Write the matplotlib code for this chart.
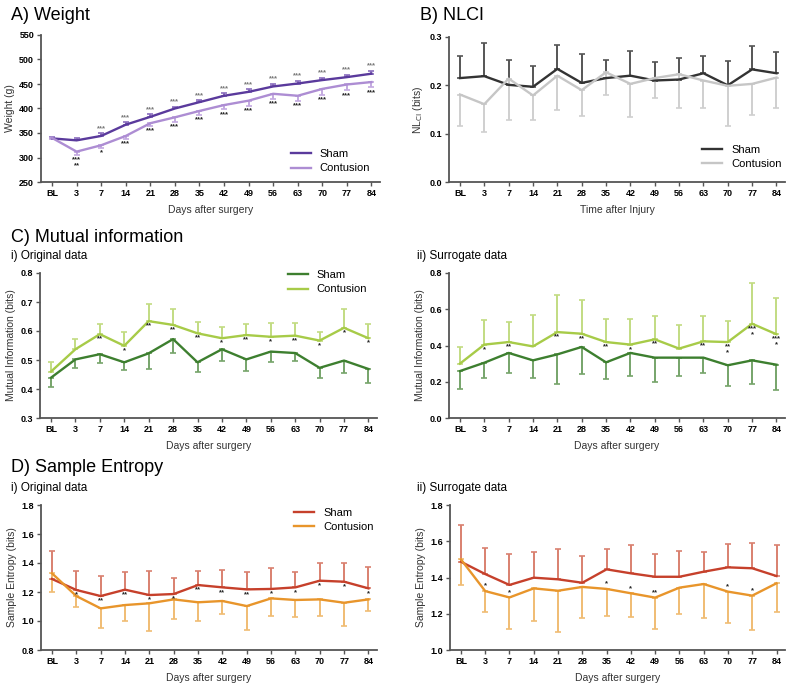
import matplotlib
matplotlib.use('Agg')
import matplotlib.pyplot as plt
import numpy as np

plt.rcParams['font.family'] = ['Liberation Sans', 'DejaVu Sans']

DAYS = ['BL', '3', '7', '14', '21', '28', '35', '42', '49', '56', '63', '70', '77', '84']

# ---- A) Weight ----
w_sham = [339, 335, 344, 367, 383, 400, 413, 426, 434, 445, 451, 458, 464, 471]
w_sham_hi = [342, 339, 349, 372, 388, 404, 417, 431, 439, 450, 456, 463, 469, 477]
w_cont = [340, 312, 325, 344, 370, 382, 395, 407, 416, 430, 426, 440, 449, 454]
w_cont_lo = [337, 306, 319, 338, 364, 372, 387, 398, 405, 419, 415, 428, 437, 443]
w_stars_sham = ['', '', '***', '***', '***', '***', '***', '***', '***', '***', '***', '***', '***', '***']
w_stars_cont = ['', '***\n**', '*', '***', '***', '***', '***', '***', '***', '***', '***', '***', '***', '***']

# ---- B) NLCI ----
n_sham = [0.215, 0.219, 0.201, 0.197, 0.234, 0.205, 0.215, 0.220, 0.210, 0.212, 0.225, 0.200, 0.233, 0.225]
n_sham_hi = [0.260, 0.287, 0.252, 0.241, 0.283, 0.264, 0.253, 0.271, 0.249, 0.256, 0.260, 0.250, 0.281, 0.270]
n_cont = [0.181, 0.161, 0.214, 0.179, 0.220, 0.190, 0.227, 0.203, 0.215, 0.223, 0.210, 0.199, 0.203, 0.216]
n_cont_lo = [0.116, 0.103, 0.129, 0.129, 0.150, 0.137, 0.179, 0.134, 0.173, 0.154, 0.154, 0.116, 0.139, 0.154]

# ---- C) Mutual information ----
mi_sham = [0.439, 0.502, 0.520, 0.492, 0.523, 0.572, 0.492, 0.537, 0.502, 0.529, 0.524, 0.473, 0.498, 0.469]
mi_sham_lo = [0.408, 0.473, 0.489, 0.466, 0.470, 0.525, 0.458, 0.495, 0.463, 0.494, 0.497, 0.437, 0.454, 0.422]
mi_cont = [0.460, 0.537, 0.589, 0.549, 0.634, 0.621, 0.592, 0.575, 0.586, 0.580, 0.584, 0.567, 0.611, 0.575]
mi_cont_hi = [0.494, 0.571, 0.623, 0.598, 0.692, 0.676, 0.632, 0.615, 0.624, 0.626, 0.626, 0.598, 0.675, 0.624]
mi_stars = ['', '', '**', '*', '**', '**', '**', '*', '**', '*', '**', '*', '*', '*']

ms_sham = [0.259, 0.305, 0.359, 0.318, 0.351, 0.392, 0.307, 0.359, 0.333, 0.333, 0.333, 0.291, 0.318, 0.294]
ms_sham_lo = [0.160, 0.221, 0.246, 0.221, 0.190, 0.245, 0.213, 0.234, 0.199, 0.232, 0.248, 0.175, 0.188, 0.156]
ms_cont = [0.300, 0.405, 0.419, 0.395, 0.474, 0.465, 0.419, 0.405, 0.434, 0.383, 0.423, 0.419, 0.520, 0.462]
ms_cont_hi = [0.392, 0.539, 0.530, 0.570, 0.680, 0.653, 0.544, 0.548, 0.563, 0.511, 0.563, 0.535, 0.747, 0.662]
ms_stars = ['', '*', '**', '', '**', '**', '**', '*', '**', '', '**', '**\n*', '***\n*', '***\n*']

# ---- D) Sample entropy ----
se_sham = [1.290, 1.214, 1.172, 1.216, 1.179, 1.186, 1.248, 1.232, 1.218, 1.221, 1.232, 1.278, 1.271, 1.225]
se_sham_hi = [1.485, 1.347, 1.310, 1.340, 1.347, 1.299, 1.347, 1.352, 1.340, 1.368, 1.340, 1.398, 1.402, 1.375]
se_cont = [1.329, 1.172, 1.087, 1.110, 1.122, 1.149, 1.129, 1.138, 1.103, 1.156, 1.145, 1.149, 1.126, 1.149]
se_cont_lo = [1.198, 1.094, 0.949, 1.002, 0.933, 1.014, 1.002, 1.048, 0.940, 1.037, 1.030, 1.037, 0.963, 1.071]
se_stars = ['', '*', '**', '**', '*', '*', '**', '**', '**', '*', '*', '*', '*', '*']

ss_sham = [1.487, 1.419, 1.359, 1.399, 1.390, 1.371, 1.445, 1.423, 1.404, 1.404, 1.432, 1.456, 1.451, 1.408]
ss_sham_hi = [1.690, 1.561, 1.530, 1.539, 1.557, 1.519, 1.555, 1.579, 1.530, 1.548, 1.543, 1.585, 1.589, 1.579]
ss_cont = [1.500, 1.325, 1.290, 1.340, 1.327, 1.348, 1.337, 1.313, 1.289, 1.344, 1.364, 1.322, 1.300, 1.368]
ss_cont_lo = [1.358, 1.208, 1.114, 1.162, 1.099, 1.175, 1.189, 1.180, 1.114, 1.200, 1.178, 1.147, 1.110, 1.208]
ss_stars = ['', '*', '*', '', '', '', '*', '*', '**', '', '', '*', '*', '']

x = np.arange(len(DAYS))
W, H = 800, 684
fig = plt.figure(figsize=(8, 6.84), dpi=100)


def make_ax(l, r, t, b):
    return fig.add_axes([l / W, 1 - b / H, (r - l) / W, (b - t) / H])


def series(ax, y, end, color, ecolor, label, lw=1.7):
    y = np.array(y)
    end = np.array(end)
    lo = np.clip(y - end, 0, None)
    hi = np.clip(end - y, 0, None)
    ax.errorbar(x, y, yerr=[lo, hi], fmt='none', ecolor=ecolor, elinewidth=1.4,
                capsize=2.5, capthick=1.2, zorder=2)
    ax.plot(x, y, color=color, lw=lw, label=label, zorder=3)


def stars(ax, y, labels, dy, color='#222222', va='top'):
    for xi, yi, s in zip(x, y, labels):
        if s:
            ax.annotate(s, (xi, yi), xytext=(0, dy), textcoords='offset points',
                        ha='center', va=va, fontsize=5.5, color=color,
                        fontweight='bold', linespacing=0.8)


def style(ax, ylim, yticks, fmt, ylabel, xlabel):
    ax.set_xlim(-0.45, 13.35)
    ax.set_ylim(*ylim)
    ax.set_xticks(x)
    ax.set_xticklabels(DAYS)
    ax.set_yticks(yticks)
    ax.set_yticklabels([fmt.format(v) for v in yticks])
    for s in ['top', 'right']:
        ax.spines[s].set_visible(False)
    for s in ['left', 'bottom']:
        ax.spines[s].set_color('#555555')
        ax.spines[s].set_linewidth(1.3)
    ax.tick_params(axis='both', labelsize=6.5, length=3, width=1, color='#555555', pad=2)
    for lab in ax.get_xticklabels() + ax.get_yticklabels():
        lab.set_fontweight('bold')
    ax.set_ylabel(ylabel, fontsize=7.5, color='#333333', labelpad=3)
    ax.set_xlabel(xlabel, fontsize=7.5, color='#333333', labelpad=5)


def legend(ax, loc, anchor):
    ax.legend(loc=loc, bbox_to_anchor=anchor, frameon=False, fontsize=8,
              handlelength=1.8, labelspacing=0.4, handletextpad=0.8)


# A) Weight
ax = make_ax(41, 380, 35, 182)
series(ax, w_sham, w_sham_hi, '#5a3a9c', '#8a6dbd', 'Sham')
series(ax, w_cont, w_cont_lo, '#ad8dd3', '#c3a9e0', 'Contusion')
stars(ax, w_sham_hi, w_stars_sham, 1, color='#777777', va='bottom')
stars(ax, w_cont_lo, w_stars_cont, -1)
style(ax, (250, 550), np.arange(250, 551, 50), '{:.0f}', 'Weight (g)', 'Days after surgery')
legend(ax, 'lower right', (1.0, -0.01))
fig.text(11 / W, 1 - 15 / H, 'A) Weight', fontsize=13, va='center')

# B) NLCI
ax = make_ax(449, 785, 37, 182)
series(ax, n_sham, n_sham_hi, '#333333', '#555555', 'Sham')
series(ax, n_cont, n_cont_lo, '#c6c6c6', '#cfcfcf', 'Contusion')
style(ax, (0, 0.3), np.arange(0, 0.31, 0.1), '{:.1f}', r'NL$_{\rm CI}$ (bits)', 'Time after Injury')
legend(ax, 'lower right', (1.02, 0.02))
fig.text(420 / W, 1 - 15 / H, 'B) NLCI', fontsize=13, va='center')

# C) Mutual information
fig.text(11 / W, 1 - 237 / H, 'C) Mutual information', fontsize=13, va='center')
fig.text(11 / W, 1 - 256 / H, 'i) Original data', fontsize=8.5, va='center')
fig.text(417 / W, 1 - 256 / H, 'ii) Surrogate data', fontsize=8.5, va='center')

ax = make_ax(40, 377, 273, 418)
series(ax, mi_sham, mi_sham_lo, '#3d7f2f', '#76a46a', 'Sham')
series(ax, mi_cont, mi_cont_hi, '#a7cb48', '#c2dc82', 'Contusion')
stars(ax, mi_cont, mi_stars, -1)
style(ax, (0.3, 0.8), np.arange(0.3, 0.81, 0.1), '{:.1f}', 'Mutual Information (bits)', 'Days after surgery')
legend(ax, 'upper right', (1.0, 1.09))

ax = make_ax(449, 785, 273, 418)
series(ax, ms_sham, ms_sham_lo, '#3d7f2f', '#76a46a', 'Sham')
series(ax, ms_cont, ms_cont_hi, '#a7cb48', '#c2dc82', 'Contusion')
stars(ax, ms_cont, ms_stars, -1)
style(ax, (0.0, 0.8), np.arange(0.0, 0.81, 0.2), '{:.1f}', 'Mutual Information (bits)', 'Days after surgery')

# D) Sample entropy
fig.text(11 / W, 1 - 468 / H, 'D) Sample Entropy', fontsize=13, va='center')
fig.text(11 / W, 1 - 488 / H, 'i) Original data', fontsize=8.5, va='center')
fig.text(417 / W, 1 - 488 / H, 'ii) Surrogate data', fontsize=8.5, va='center')

ax = make_ax(41, 377, 505, 650)
series(ax, se_sham, se_sham_hi, '#c6402b', '#d9806f', 'Sham')
series(ax, se_cont, se_cont_lo, '#e8952b', '#f0bc73', 'Contusion')
stars(ax, se_sham, se_stars, -1)
style(ax, (0.8, 1.8), np.arange(0.8, 1.81, 0.2), '{:.1f}', 'Sample Entropy (bits)', 'Days after surgery')
legend(ax, 'upper right', (1.02, 1.05))

ax = make_ax(450, 785, 505, 650)
series(ax, ss_sham, ss_sham_hi, '#c6402b', '#d9806f', 'Sham')
series(ax, ss_cont, ss_cont_lo, '#e8952b', '#f0bc73', 'Contusion')
stars(ax, ss_cont, ss_stars, 1, va='bottom')
style(ax, (1.0, 1.8), np.arange(1.0, 1.81, 0.2), '{:.1f}', 'Sample Entropy (bits)', 'Days after surgery')

plt.savefig('out.png', dpi=100)
plt.close()
